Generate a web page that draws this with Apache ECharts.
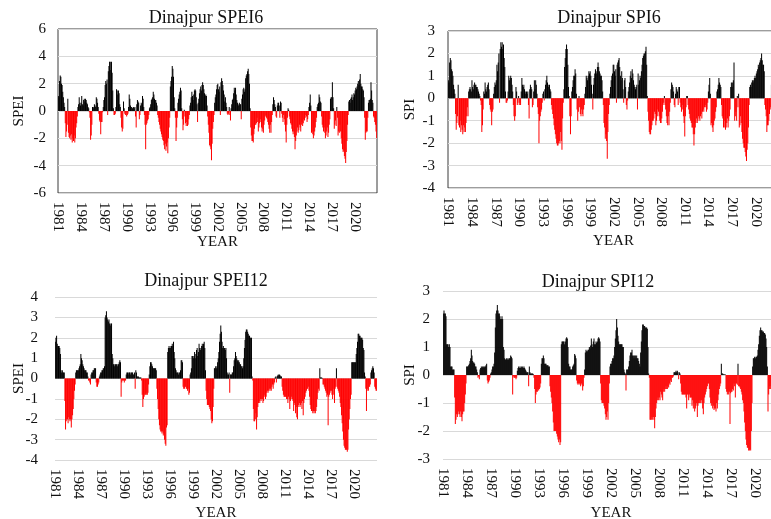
<!DOCTYPE html>
<html>
<head>
<meta charset="utf-8">
<script src="https://cdn.jsdelivr.net/npm/echarts@6/dist/echarts.min.js"></script>
<style>
html,body{margin:0;padding:0;background:#fff;overflow:hidden;}
#chart{width:810px;height:519px;}
</style>
</head>
<body>
<div id="chart"></div>
<script>
// Monthly values, Jan 1981 .. Dec 2022 (one line = one year)
const startYear = 1981;
const endYear = 2022;
const tickYears = [1981,1984,1987,1990,1993,1996,1999,2002,2005,2008,2011,2014,2017,2020];

const spei6 = [
1.1,1.0,2.2,2.6,2.5,2.0,1.9,1.4,1.0,0.6,0.3,-0.9,
-1.9,-1.5,-1.0,0.9,-1.6,-1.9,-2.0,-1.8,-2.1,-1.7,-2.3,-2.0,
-2.2,-1.8,-2.3,-2.0,-1.2,-0.9,-0.4,0.3,0.5,1.0,0.6,0.4,
0.6,1.1,0.5,0.4,0.8,0.9,0.7,0.9,0.8,0.6,0.5,0.3,
0.2,-0.1,-0.5,-2.1,-1.8,-1.0,0.3,0.2,0.3,0.5,0.4,0.3,
1.0,0.9,0.6,0.3,-0.2,-0.7,-0.8,-1.7,-0.8,-0.8,-0.1,0.3,
0.8,1.0,1.9,2.2,2.0,2.3,-0.3,2.9,3.3,3.6,3.6,3.0,
3.6,2.8,1.5,0.2,-0.3,-0.3,-0.2,0.3,1.6,1.5,1.2,1.5,
1.3,0.5,0.3,-0.5,-1.2,-1.5,-1.3,0.7,0.2,-0.2,-0.3,-0.1,
-0.4,-0.3,-0.2,0.3,1.2,0.9,0.4,0.3,0.3,0.2,0.2,0.3,
0.2,0.3,-0.4,-1.2,0.5,0.8,0.7,0.6,-0.6,-0.3,0.4,0.6,
0.5,1.1,0.9,0.3,-0.3,-1.0,-2.8,-1.0,-0.9,-0.7,-0.6,-0.3,
0.2,0.3,0.5,0.8,0.9,1.0,1.4,1.2,0.9,0.8,0.8,0.6,
0.4,-0.3,-0.5,-0.8,-1.0,-1.3,-1.5,-1.7,-1.9,-2.1,-2.2,-2.5,
-2.8,-2.4,-2.9,-2.6,-2.3,-3.1,-2.0,-1.2,-0.5,1.8,2.2,2.5,
3.3,3.1,2.5,1.0,0.2,-0.5,-2.2,-1.2,-0.5,0.6,0.9,1.2,
1.4,1.7,1.5,0.2,-0.6,-1.4,-1.0,0.1,-0.4,-0.9,-1.1,-0.8,
-1.1,-1.0,-0.6,-0.3,0.4,0.6,1.0,1.4,1.1,0.8,1.2,1.5,
1.6,1.5,1.0,0.5,-0.8,0.6,0.9,1.3,1.6,1.8,1.5,1.9,
2.1,1.9,1.6,1.3,1.1,1.2,1.1,0.4,-0.4,-1.0,-1.6,-2.5,
-2.6,-2.8,-3.6,-2.4,-1.3,-0.8,-0.3,0.6,1.0,1.2,1.6,1.9,
2.0,1.6,1.4,1.8,-0.3,2.1,2.4,2.2,1.9,1.5,1.2,0.7,
1.0,0.6,0.3,-0.2,-0.3,-0.2,0.3,-0.3,-0.7,0.2,0.5,0.8,
0.9,1.3,1.7,1.5,1.7,1.2,0.8,0.6,0.5,0.4,0.6,0.5,
0.5,-0.6,0.9,1.2,1.6,1.7,1.4,1.6,2.4,2.6,2.7,2.9,
3.1,2.7,2.0,0.2,-1.2,-1.8,-2.2,-2.2,-2.3,-1.7,-1.3,-1.0,
-1.0,-0.9,-0.5,-0.8,-1.5,-1.2,-0.9,-0.6,-0.8,-1.2,-1.5,-1.3,
-1.6,-1.0,-0.7,-0.4,-0.3,-0.5,-0.6,-0.8,-1.0,-1.3,-1.6,-1.0,
-1.6,-0.8,-0.3,0.5,1.0,0.8,0.5,0.3,-0.4,-0.5,0.4,0.6,
0.6,0.4,-0.5,0.7,0.6,-0.2,-0.5,-0.8,-0.3,-0.6,-1.0,-1.5,
-2.3,-1.0,-0.5,0.2,0.1,-0.4,-0.6,-0.9,-1.0,-1.3,-1.5,-1.7,
-1.5,-1.9,-2.8,-2.2,-1.8,-1.5,-1.2,-1.6,-1.4,-1.0,-1.2,-1.5,
-1.0,-0.8,-1.1,-0.9,-0.6,-0.7,-0.5,-0.3,-0.4,-0.8,-0.6,-0.3,
0.3,0.6,1.2,0.4,-1.6,-1.5,-1.7,-2.0,-1.8,-1.5,-1.2,-0.8,
-0.5,0.3,0.5,0.6,1.2,1.0,0.7,0.6,-0.4,-1.0,-1.2,-1.5,
-1.2,-1.6,-2.0,-1.8,-1.5,-1.2,-1.9,-1.6,-1.0,-0.6,0.9,1.0,
1.0,2.1,1.0,0.2,-1.3,-1.0,-0.7,-1.1,0.3,-0.5,-1.8,-1.5,
-1.6,-1.0,-1.5,-2.0,-2.4,-2.8,-3.0,-2.9,-3.3,-3.5,-3.8,-3.0,
-2.2,-1.0,-0.3,0.7,0.8,0.6,0.9,1.0,1.2,0.8,1.0,1.3,
1.2,1.5,1.7,1.6,1.8,2.0,2.2,1.9,2.3,2.7,2.0,1.8,
1.8,1.6,1.5,1.0,-0.5,-2.1,-1.6,-1.5,-1.5,-0.5,0.6,0.8,
0.8,0.9,2.1,1.5,0.8,0.6,-0.4,-0.5,-0.8,-1.0,-1.5,-2.0
];

const spi6 = [
0.8,0.7,1.6,1.8,1.7,1.3,1.2,1.0,0.6,0.4,0.2,-0.7,
-1.4,-1.1,-0.8,0.6,-1.2,-1.3,-1.0,-1.5,-1.2,-1.4,-1.6,-1.2,
-1.5,-1.3,-1.5,-1.1,-0.8,-0.4,-0.8,0.3,0.4,0.5,0.4,0.3,
0.8,0.5,0.4,0.6,0.7,0.6,0.6,0.5,0.5,0.4,0.3,0.2,
0.1,-0.1,-0.3,-1.5,-1.2,-0.5,0.3,0.2,0.7,0.4,0.3,0.5,
0.6,0.7,0.4,-0.3,-0.5,-0.6,-1.2,-0.6,-0.5,0.2,0.5,0.7,
0.6,0.8,1.5,1.2,1.6,2.0,-0.2,2.2,2.5,2.3,2.5,2.2,
2.4,1.8,1.4,0.3,-0.2,-0.2,-0.1,0.3,1.0,0.8,0.9,1.0,
0.9,0.6,0.3,-0.3,-0.8,-1.0,-0.8,0.5,0.3,-0.3,-0.2,0.1,
-0.3,-0.2,-0.3,0.3,0.9,0.6,0.5,0.6,0.4,0.3,0.2,0.3,
0.2,0.3,-0.3,-0.9,0.4,0.6,0.5,0.4,-0.4,-0.3,0.3,0.8,
0.4,0.8,0.6,0.2,-0.4,-0.7,-2.0,-1.0,-0.8,-0.6,-0.5,-0.2,
0.2,0.3,-0.1,0.4,0.6,0.8,1.0,0.7,0.6,0.5,0.6,0.4,
0.3,-0.3,-0.5,-0.7,-0.9,-1.2,-1.4,-1.6,-1.8,-2.0,-2.1,-2.1,
-2.0,-1.9,-2.0,-1.5,-1.9,-2.3,-0.9,-0.2,0.4,1.4,1.8,2.2,
2.4,2.2,1.5,0.5,0.1,-0.8,-1.6,-0.8,0.3,0.5,0.8,1.0,
1.0,1.3,1.1,0.2,-0.5,-1.0,-0.6,0.1,-0.4,-0.7,-0.8,-0.5,
-0.7,-0.8,-0.5,-0.3,0.2,0.5,1.0,0.9,0.8,1.0,1.2,1.1,
1.2,1.0,0.6,0.2,-0.5,0.6,0.9,1.1,1.3,1.2,1.1,1.4,
1.6,1.4,1.2,1.1,1.0,1.0,0.8,0.3,-0.3,-1.1,-1.3,-1.8,
-1.6,-1.9,-2.7,-1.5,-0.7,-0.3,0.2,0.5,0.8,1.0,1.1,1.5,
1.5,1.2,1.0,1.3,-0.2,1.5,1.6,1.7,1.8,1.4,1.0,0.8,
1.2,0.9,0.4,-0.2,0.8,0.9,0.5,-0.3,-0.5,-0.1,0.3,0.5,
0.7,1.0,1.2,0.9,1.3,1.1,0.8,0.6,0.5,0.4,0.5,0.6,
-0.5,1.1,0.6,0.8,1.0,0.9,1.2,1.5,1.8,1.9,2.0,2.0,
2.1,2.3,1.5,0.1,-0.6,-1.0,-1.5,-1.6,-1.6,-1.4,-1.2,-1.0,
-1.0,-0.9,-0.6,-0.7,-1.2,-1.0,-0.8,-0.5,-0.6,-0.8,-1.0,-1.1,
-1.1,-0.9,-0.6,-0.3,-0.2,0.1,-0.3,-0.5,-0.8,-1.1,-1.2,-0.8,
-1.2,-0.6,-0.2,0.4,0.7,0.6,0.5,0.3,-0.3,-0.4,0.2,0.5,
0.4,0.3,-0.3,0.5,0.5,-0.2,-0.4,-0.6,-0.3,-0.5,-0.8,-1.1,
-1.7,-0.8,-0.4,0.1,0.1,-0.3,-0.5,-0.7,-0.9,-1.0,-1.1,-1.3,
-1.3,-1.6,-2.1,-1.6,-1.3,-1.1,-0.9,-1.1,-1.0,-0.8,-0.9,-1.0,
-0.8,-0.7,-0.9,-0.6,-0.5,-0.6,-0.4,-0.3,-0.4,-0.6,-0.5,-0.2,
0.3,0.6,0.9,0.2,-1.2,-1.1,-1.3,-1.5,-1.2,-1.0,-0.9,-0.6,
-0.4,0.3,0.4,0.6,0.9,0.7,0.6,0.5,-0.3,-0.8,-0.9,-1.3,
-1.0,-1.3,-1.4,-1.3,-1.1,-0.9,-1.3,-1.0,-0.8,-0.5,0.5,0.7,
0.5,0.7,0.8,1.6,-1.0,-0.8,-0.6,-1.0,0.1,-0.4,0.2,-1.3,
-1.2,-0.8,-1.1,-1.5,-1.8,-2.0,-2.2,-2.2,-2.4,-2.6,-2.8,-2.3,
-2.0,-1.3,-0.3,0.5,0.6,0.5,0.7,0.8,0.7,0.8,0.9,1.0,
0.9,1.1,1.2,1.3,1.5,1.4,1.6,1.7,1.8,2.0,1.7,1.5,
1.5,1.2,-0.3,-0.5,-0.8,-1.5,-1.2,-1.2,-1.0,-0.7,-0.5,-0.4,
0.6,1.5,1.1,0.6,0.1,-0.3,-0.5,-0.6,-0.8,-1.1,-1.4,-1.3
];

const spei12 = [
1.8,2.0,2.1,1.7,1.6,1.6,1.6,1.5,1.2,0.4,0.3,0.4,
0.3,0.3,0.3,-1.1,-2.5,-2.1,-2.0,-2.0,-2.2,-1.9,-2.0,-2.1,
-2.0,-2.4,-2.0,-1.8,-1.5,-1.0,-0.6,-0.3,0.3,0.4,0.4,0.4,
0.4,0.5,0.6,0.7,1.2,1.0,0.9,0.7,0.6,0.5,0.4,0.4,
0.4,0.3,0.3,0.1,-0.1,-0.1,-0.2,-0.3,0.2,0.3,0.3,0.4,
0.4,0.5,0.5,0.5,-0.2,-0.4,-0.4,-0.3,-0.2,0.1,0.2,0.3,
0.3,0.4,0.4,0.5,0.5,0.6,3.0,3.1,3.3,3.0,2.9,2.8,
2.9,2.7,2.6,2.7,2.7,1.2,1.0,0.7,0.7,0.6,0.7,0.7,
0.7,0.6,0.7,0.7,0.8,0.9,0.8,-0.9,-0.2,-0.1,-0.1,-0.1,
-0.2,-0.1,-0.1,0.2,0.3,0.3,0.2,0.3,0.3,0.3,0.2,0.3,
0.3,0.3,0.2,0.2,0.3,-0.5,0.4,0.3,0.1,0.1,0.1,0.05,
0.05,0.05,0.05,-0.1,-0.8,-1.4,-1.0,-0.9,-0.8,-0.8,-0.7,-0.8,
-0.8,-0.7,-0.3,0.2,0.6,0.8,0.8,0.7,0.6,0.5,0.5,0.5,
0.5,0.5,0.4,-0.5,-1.0,-1.5,-2.0,-2.3,-2.5,-2.6,-2.6,-2.7,
-2.6,-2.8,-2.7,-3.0,-3.2,-3.3,-2.4,-2.3,1.3,1.5,1.6,1.5,
1.5,1.6,1.6,1.7,1.6,1.8,1.3,1.0,0.5,0.4,0.3,0.3,
0.3,0.2,0.3,0.3,0.4,0.9,0.9,0.8,-0.4,-0.5,-0.5,-0.4,
-0.4,-0.5,-0.5,-0.6,-0.5,-0.8,-0.7,0.2,0.3,0.5,1.1,1.1,
1.0,1.1,1.3,1.0,1.2,1.4,1.5,1.1,1.3,1.7,1.5,1.4,
1.5,1.6,1.7,1.6,1.7,1.8,1.5,0.4,-0.6,-1.0,-1.3,-1.3,
-1.3,-1.4,-1.5,-1.6,-2.0,-2.2,-2.1,-1.4,-0.5,0.5,0.5,0.6,
0.5,0.6,0.8,1.0,1.3,1.8,2.2,2.6,2.3,1.8,1.5,1.6,
1.5,1.5,1.4,1.5,1.0,0.3,0.2,0.2,0.3,-0.7,0.2,0.2,
0.2,0.3,0.3,0.6,0.9,1.0,1.3,1.1,1.0,0.9,0.8,0.9,
0.8,0.7,0.7,0.6,0.6,0.5,0.6,1.0,1.5,1.9,2.3,2.4,
2.4,2.3,2.2,2.1,2.1,2.0,2.0,2.0,0.1,-0.1,-1.5,-2.1,
-2.1,-2.0,-1.7,-2.5,-1.9,-1.4,-1.2,-1.1,-1.2,-1.0,-1.1,-1.0,
-1.0,-1.2,-1.1,-0.9,-0.8,-1.0,-0.9,-0.7,-0.6,-0.7,-0.6,-0.5,
-0.6,-0.5,-0.6,-0.4,-0.3,-0.5,-0.3,-0.2,0.05,0.1,-0.2,0.1,
0.15,0.2,0.15,0.2,0.15,0.1,0.1,-0.4,-0.6,-0.8,-0.9,-0.9,
-0.9,-0.9,-1.0,-1.0,-1.2,-0.9,-1.0,-1.5,-1.1,-1.0,-0.9,-1.0,
-1.1,-1.6,-1.2,-1.3,-1.7,-1.4,-1.9,-2.0,-1.4,-1.3,-1.2,-1.4,
-1.3,-1.2,-1.5,-1.1,-1.8,-1.2,-1.0,-0.9,-0.7,-0.6,-0.5,-0.5,
-0.4,-0.6,-0.9,-1.3,-1.5,-1.6,-1.6,-1.7,-1.6,-1.7,-1.6,-1.7,
-1.6,-1.4,-1.0,-0.7,-0.5,-0.6,0.5,0.05,0.05,0.05,0.03,-0.3,
-0.3,-0.4,-0.5,-0.6,-0.7,-0.9,-0.8,-2.3,-0.9,-0.8,-0.7,-0.6,
-0.6,-0.8,-1.0,-0.8,-0.5,-1.2,-0.5,-0.4,0.5,-0.4,-0.5,-0.6,
-0.7,-0.9,-1.2,-1.4,-1.8,-2.2,-2.6,-3.0,-3.3,-3.4,-3.5,-3.5,
-3.5,-3.6,-3.5,-2.5,-2.0,-1.5,-1.0,-0.8,0.8,0.8,0.8,0.8,
0.8,0.8,0.8,1.2,1.5,1.8,2.2,2.2,2.1,2.1,2.0,2.0,
2.0,1.9,1.5,1.4,0.3,0.1,-0.5,-1.6,-0.6,-0.5,-0.6,-0.4,
-0.4,-0.3,0.3,0.4,0.5,0.6,0.5,0.3,-0.4,-0.5,-0.6,-0.6
];

const spi12 = [
2.2,2.3,2.2,2.2,2.1,1.1,1.1,1.1,1.0,1.1,1.0,0.3,
0.3,0.3,0.2,0.2,0.2,-0.8,-1.75,-1.6,-1.4,-1.5,-1.4,-1.3,
-1.4,-1.5,-1.3,-1.5,-1.65,-1.4,-1.3,-1.3,-1.0,-0.7,-0.3,0.3,
0.3,0.3,0.35,0.4,0.5,0.6,0.9,0.7,0.5,0.45,0.45,0.4,
0.3,0.3,0.2,0.1,-0.1,-0.05,-0.15,0.2,0.25,0.3,0.25,0.3,
0.3,0.25,0.3,0.3,0.35,0.4,-0.2,-0.3,-0.25,-0.2,-0.1,0.05,
0.1,0.2,0.3,0.3,0.4,0.8,1.7,2.2,2.3,2.5,2.3,2.2,
2.2,2.1,2.0,2.0,2.1,2.0,1.0,0.9,0.6,0.55,0.55,0.6,
0.55,0.6,0.55,0.6,0.6,0.7,0.65,0.6,-0.7,-0.05,-0.1,-0.1,
-0.1,-0.15,-0.1,0.15,0.25,0.3,0.25,0.3,0.25,0.3,0.25,0.3,
0.25,0.3,0.25,0.2,0.15,0.1,0.1,0.1,-0.4,0.3,0.1,0.05,
0.05,0.05,0.05,0.03,-0.1,-0.5,-1.0,-0.7,-0.6,-0.6,-0.5,-0.55,
-0.5,-0.45,-0.3,0.4,0.6,0.6,0.7,0.6,0.4,0.4,0.4,0.35,
0.35,0.35,0.3,0.3,-0.4,-0.6,-0.8,-1.0,-1.3,-1.7,-2.0,-2.0,
-2.0,-2.0,-2.1,-2.2,-2.3,-2.4,-2.3,-2.5,-2.4,1.1,1.2,1.2,
1.2,1.2,1.1,1.2,1.3,1.35,1.3,1.0,0.4,0.3,0.3,0.2,
0.2,0.2,0.3,0.35,0.4,0.75,0.7,0.6,-0.2,-0.3,-0.35,-0.3,
-0.3,-0.35,-0.4,-0.3,-0.35,-0.55,-0.4,-0.1,0.2,0.8,0.9,0.85,
0.85,0.9,0.9,1.0,0.95,1.05,1.3,1.1,1.0,1.2,1.3,1.1,
1.1,1.2,1.15,1.2,1.3,1.35,1.3,1.2,-0.3,-0.9,-1.0,-1.0,
-1.0,-1.1,-1.2,-1.4,-1.6,-1.5,-1.3,-1.6,-1.0,-0.3,0.3,0.4,
0.4,0.5,0.6,0.6,0.7,1.0,1.3,1.6,2.0,1.7,1.4,1.2,
1.1,1.1,1.1,1.1,1.1,1.0,1.0,0.2,0.1,0.05,-0.55,0.2,
0.2,0.2,0.3,0.5,0.7,0.8,0.8,0.9,0.7,0.7,0.6,0.7,
0.7,0.6,0.7,0.6,0.6,0.5,0.4,0.3,0.8,1.2,1.6,1.8,
1.8,1.75,1.75,1.7,1.7,1.7,1.65,1.0,0.05,-0.1,-1.6,-1.6,
-1.6,-1.5,-1.6,-1.5,-1.6,-1.9,-1.5,-1.2,-1.0,-0.9,-0.8,-0.9,
-0.8,-0.9,-0.6,-0.7,-0.8,-0.9,-0.6,-0.5,-0.6,-0.5,-0.4,-0.5,
-0.5,-0.4,-0.45,-0.3,-0.35,-0.2,-0.25,-0.1,-0.1,-0.05,0.1,0.1,
0.1,0.15,0.1,0.15,0.1,-0.15,0.1,0.05,-0.3,-0.6,-0.7,-0.7,
-0.7,-0.7,-0.7,-0.7,-0.8,-1.2,-0.7,-0.7,-0.9,-0.7,-0.8,-0.8,
-0.8,-1.1,-0.9,-1.2,-1.0,-1.3,-1.2,-1.1,-1.0,-1.5,-1.1,-1.0,
-1.0,-0.9,-1.0,-0.9,-1.0,-1.2,-1.4,-1.0,-0.8,-0.7,-0.6,-0.5,
-0.4,-0.3,-0.3,-0.5,-0.8,-1.0,-1.1,-1.0,-1.2,-1.1,-1.25,-1.2,
-1.2,-1.3,-1.0,-1.2,-0.9,-0.7,-0.5,-0.4,-0.3,0.4,0.05,0.05,
0.03,0.03,0.02,0.02,-0.5,-0.6,-0.7,-0.6,-0.7,-0.6,-1.75,-0.65,
-0.6,-0.6,-0.5,-0.55,-0.3,-0.4,-0.8,-0.3,-0.3,-0.35,0.4,-0.4,
-0.4,-0.45,-0.5,-0.6,-0.7,-0.9,-1.0,-1.3,-1.7,-2.0,-2.3,-2.5,
-2.6,-2.6,-2.7,-2.7,-2.65,-2.7,-2.0,-1.0,0.3,0.6,0.6,0.65,
0.6,0.65,0.65,0.7,0.9,1.1,1.4,1.6,1.7,1.6,1.6,1.55,
1.55,1.5,1.5,1.45,1.3,1.0,0.3,-1.3,-0.7,-0.5,-0.4,-0.5,
-0.3,0.2,0.4,0.5,0.4,0.2,-0.3,-0.4,-0.6,-0.7,-0.8,-0.8
];

// month categories
const months = [];
for (let y = startYear; y <= endYear; y++) {
  for (let m = 1; m <= 12; m++) months.push(y + '-' + (m < 10 ? '0' + m : m));
}

const FONT = 'Liberation Serif';
const panels = [
  {title:'Dinajpur SPEI6', yName:'SPEI', data:spei6, min:-6, max:6, step:2,
   grid:{left:58, top:29, width:319, height:164}, titleX:201, titleY:4, border:true, yGap:31, xGap:42, labMargin:12},
  {title:'Dinajpur SPI6', yName:'SPI', data:spi6, min:-4, max:3, step:1,
   grid:{left:448, top:31, width:331, height:157}, titleX:604, titleY:4, border:true, yGap:30, xGap:46, labMargin:13},
  {title:'Dinajpur SPEI12', yName:'SPEI', data:spei12, min:-4, max:4, step:1,
   grid:{left:55, top:297, width:322, height:163}, titleX:201, titleY:267, border:false, yGap:28, xGap:46, labMargin:17},
  {title:'Dinajpur SPI12', yName:'SPI', data:spi12, min:-3, max:3, step:1,
   grid:{left:443, top:291, width:336, height:168}, titleX:593, titleY:268, border:false, yGap:25, xGap:47, labMargin:13}
];

const option = {
  animation:false,
  backgroundColor:'#ffffff',
  title: panels.map(p => ({
    text:p.title, left:p.titleX, top:p.titleY, textAlign:'center',
    textStyle:{fontFamily:FONT, fontSize:18, fontWeight:'normal', color:'#111'}
  })),
  grid: panels.map(p => Object.assign({
    show:p.border, borderColor:'#3a3a3a', borderWidth:1, backgroundColor:'transparent',
    containLabel:false, outerBoundsMode:'none'
  }, p.grid)),
  xAxis: panels.map((p,i) => ({
    type:'category', gridIndex:i, data:months,
    name:'YEAR', nameLocation:'middle', nameGap:p.xGap, nameMoveOverlap:false,
    nameTextStyle:{fontFamily:FONT, fontSize:15, color:'#111'},
    axisLine:{show:false}, axisTick:{show:false},
    axisLabel:{
      interval:(idx, val) => val.endsWith('-01') && tickYears.indexOf(+val.slice(0,4)) >= 0,
      formatter:v => v.slice(0,4),
      rotate:-90, margin:9,
      fontFamily:FONT, fontSize:15, color:'#111'
    },
    splitLine:{show:false}
  })),
  yAxis: panels.map((p,i) => ({
    type:'value', gridIndex:i, min:p.min, max:p.max, interval:p.step,
    name:p.yName, nameLocation:'middle', nameGap:p.yGap, nameRotate:90, nameMoveOverlap:false,
    nameTextStyle:{fontFamily:FONT, fontSize:15, color:'#111'},
    axisLine:{show:false}, axisTick:{show:false},
    axisLabel:{fontFamily:FONT, fontSize:15, color:'#111', margin:p.labMargin},
    splitLine:{lineStyle:{color:'#d9d9d9', width:1}}
  })),
  series: panels.map((p,i) => ({
    type:'bar', xAxisIndex:i, yAxisIndex:i,
    data:p.data,
    barCategoryGap:'0%',
    itemStyle:{color:(d) => d.value >= 0 ? '#000000' : '#ff0000'},
    emphasis:{disabled:true}
  }))
};

const chart = echarts.init(document.getElementById('chart'), null, {renderer:'canvas'});
chart.setOption(option);
</script>
</body>
</html>
